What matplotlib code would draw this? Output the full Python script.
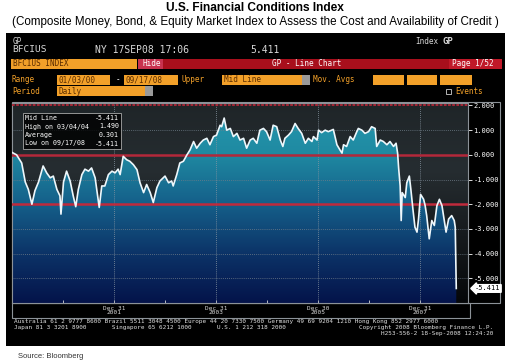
import numpy as np
import matplotlib.pyplot as plt
import matplotlib.transforms as mtransforms
from matplotlib.colors import LinearSegmentedColormap
from matplotlib.patches import Rectangle

W, H = 510, 362

# index readings (decimal year, value)
t = [2000.00, 2000.09, 2000.19, 2000.26, 2000.32, 2000.39, 2000.45, 2000.52, 2000.61, 2000.68, 2000.75, 2000.81, 2000.88, 2000.94, 2000.96,
     2001.01, 2001.07, 2001.14, 2001.20, 2001.25, 2001.30, 2001.37, 2001.43, 2001.50, 2001.56, 2001.63, 2001.67, 2001.71, 2001.76, 2001.82, 2001.89, 2001.96,
     2002.02, 2002.08, 2002.12, 2002.18, 2002.25, 2002.31, 2002.38, 2002.45, 2002.51, 2002.58, 2002.64, 2002.71, 2002.77, 2002.84, 2002.90,
     2003.00, 2003.07, 2003.13, 2003.16, 2003.23, 2003.29, 2003.36, 2003.43, 2003.49, 2003.56, 2003.62, 2003.69, 2003.75, 2003.82, 2003.88, 2003.95,
     2004.01, 2004.08, 2004.11, 2004.16, 2004.21, 2004.28, 2004.34, 2004.41, 2004.47, 2004.54, 2004.60, 2004.67, 2004.73, 2004.80, 2004.86, 2004.93, 2004.99,
     2005.06, 2005.12, 2005.19, 2005.26, 2005.31, 2005.35, 2005.42, 2005.48, 2005.55, 2005.61, 2005.68, 2005.75, 2005.81, 2005.88, 2005.91, 2005.98,
     2006.01, 2006.07, 2006.14, 2006.20, 2006.30, 2006.37, 2006.43, 2006.47, 2006.50, 2006.56, 2006.63, 2006.69, 2006.76, 2006.79, 2006.86, 2006.92, 2006.99,
     2007.05, 2007.12, 2007.15, 2007.22, 2007.28, 2007.35, 2007.41, 2007.48, 2007.53, 2007.56, 2007.58, 2007.61, 2007.63, 2007.65, 2007.71, 2007.74, 2007.79, 2007.82, 2007.86, 2007.90, 2007.94, 2007.97,
     2008.01, 2008.07, 2008.10, 2008.13, 2008.18, 2008.23, 2008.28, 2008.33, 2008.38, 2008.43, 2008.46, 2008.51, 2008.56, 2008.62, 2008.67, 2008.69, 2008.71]
fci = [0.10, 0.00, -0.33, -1.10, -1.40, -2.00, -1.45, -1.10, -0.45, -0.73, -0.93, -0.86, -1.40, -1.66, -2.40,
       -1.10, -0.66, -1.06, -1.66, -2.10, -1.40, -0.80, -0.58, -0.66, -0.53, -0.93, -1.53, -2.13, -1.26, -1.26, -0.80, -0.66,
       -0.73, -0.58, -0.80, -0.06, -0.20, -0.26, -0.40, -0.60, -1.13, -1.53, -1.20, -1.53, -1.93, -1.33, -1.06,
       -0.86, -1.13, -1.06, -1.26, -0.80, -0.33, -0.26, 0.00, 0.20, 0.54, 0.27, 0.47, 0.60, 0.67, 0.41, 0.74,
       0.80, 1.20, 1.14, 1.49, 1.00, 1.07, 0.74, 0.87, 0.60, 0.67, 0.27, 0.60, 0.67, 0.47, 1.00, 1.07, 0.94,
       0.60, 1.20, 1.14, 0.60, 0.34, 0.67, 0.80, 0.94, 1.27, 1.07, 0.87, 0.47, 0.67, 0.54, 0.74, 0.60,
       1.00, 0.90, 1.00, 0.94, 1.03, 0.41, 0.20, 0.07, 0.41, 0.34, 0.74, 0.60, 0.94, 1.07, 1.00, 0.87, 0.94,
       1.14, 1.07, 0.34, 0.60, 0.54, 0.41, 0.54, 0.34, 0.47, 0.07, -0.53, -1.26, -2.66, -1.53, -1.73, -1.13, -0.86, -1.40, -2.20, -2.93, -3.13, -2.60,
       -1.60, -1.80, -2.06, -2.46, -3.40, -2.66, -2.86, -2.06, -1.80, -2.06, -2.46, -3.13, -2.60, -2.46, -2.66, -2.93, -5.411]

last = -5.411
yticks = [2, 1, 0, -1, -2, -3, -4, -5]
xmajor = [2002, 2004, 2006, 2008]
xlabels = ['Dec 31\n2001', 'Dec 31\n2003', 'Dec 30\n2005', 'Dec 31\n2007']
xminor = [2001, 2003, 2005, 2007]
stat_names = ['Mid Line', 'High on 03/04/04', 'Average', 'Low on 09/17/08']
stat_vals = ['-5.411', '1.490', '0.301', '-5.411']

MONO = 'DejaVu Sans Mono'
ORANGE = '#f2a029'


def fx(x):
    return x / W


def fy(y):
    return 1 - y / H


fig = plt.figure(figsize=(W / 100, H / 100), dpi=100)
fig.patch.set_facecolor('white')


def box(x0, y0, x1, y1, fc, ec='none', lw=0, z=-1):
    fig.patches.append(Rectangle((fx(x0), fy(y1)), (x1 - x0) / W, (y1 - y0) / H,
                                 transform=fig.transFigure, facecolor=fc,
                                 edgecolor=ec, linewidth=lw, zorder=z))


def txt(x, y, s, size=5.5, color='#d8d8d8', ha='left', **kw):
    fig.text(fx(x), fy(y), s, fontsize=size, color=color, ha=ha, va='center',
             family=MONO, **kw)


# titles
fig.text(0.5, fy(8), 'U.S. Financial Conditions Index', ha='center', va='center',
         fontsize=8.6, fontweight='bold', family='Liberation Sans')
fig.text(0.5, fy(22), '(Composite Money, Bond, & Equity Market Index to Assess the Cost and Availability of Credit )',
         ha='center', va='center', fontsize=8.4, family='Liberation Sans')
fig.text(fx(18), fy(356), 'Source: Bloomberg', ha='left', va='center',
         fontsize=5.5, family='Liberation Sans', color='#333333')

# terminal panel
box(6, 33, 505, 346, 'black', z=-5)
txt(13, 41, 'GP', size=5.5)
txt(415, 41, 'Index', size=5.5)
txt(443, 41, 'GP', size=6.5, fontweight='bold')
txt(12, 50, 'BFCIUS', size=6.8)
txt(95, 50, 'NY 17SEP08 17:06', size=7)
txt(250, 50, '5.411', size=7)

box(11, 59, 137, 69, ORANGE)
txt(13, 64, 'BFCIUS INDEX', color='#5a2c00')
box(138, 59, 163, 69, '#c8324e')
txt(143, 64, 'Hide', color='white')
box(163, 59, 502, 69, '#a80f1c')
box(449, 59, 502, 69, '#c01828')
txt(272, 64, 'GP - Line Chart', color='white')
txt(452, 64, 'Page 1/52', color='white')

txt(12, 80, 'Range', color=ORANGE)
box(57, 75, 110, 85, ORANGE)
txt(59, 80, '01/03/00', color='#5a2c00')
txt(116, 80, '-', color='white')
box(124, 75, 178, 85, ORANGE)
txt(126, 80, '09/17/08', color='#5a2c00')
txt(182, 80, 'Upper', color=ORANGE)
box(222, 75, 302, 85, ORANGE)
box(302, 75, 310, 85, '#9a9a9a')
txt(224, 80, 'Mid Line', color='#5a2c00')
txt(313, 80, 'Mov. Avgs', color=ORANGE)
for a, b in [(373, 404), (407, 437), (440, 472)]:
    box(a, 75, b, 85, ORANGE)

txt(12, 91, 'Period', color=ORANGE)
box(57, 86, 145, 96, ORANGE)
box(145, 86, 153, 96, '#9a9a9a')
txt(59, 91, 'Daily', color='#5a2c00')
box(446, 89, 451, 94, 'none', ec='#d0d0d0', lw=0.6)
txt(455, 92, 'Events', color=ORANGE)

# chart frame pieces
box(12, 102, 500, 303, 'none', ec='#8c9298', lw=0.8, z=-4)
box(12, 303, 470, 318, 'none', ec='#8c9298', lw=0.8, z=-4)

# footer
txt(14, 322, 'Australia 61 2 9777 8600 Brazil 5511 3048 4500 Europe 44 20 7330 7500 Germany 49 69 9204 1210 Hong Kong 852 2977 6000', size=4.35, color='#e0e0e0')
txt(14, 328, 'Japan 81 3 3201 8900       Singapore 65 6212 1000       U.S. 1 212 318 2000', size=4.35, color='#e0e0e0')
txt(493, 328, 'Copyright 2008 Bloomberg Finance L.P.', size=4.35, color='#e0e0e0', ha='right')
txt(493, 333, 'H253-556-2 18-Sep-2008 12:24:20', size=4.35, color='#e0e0e0', ha='right')

# main chart
ax = fig.add_axes([fx(12), fy(303), (468 - 12) / W, (303 - 103) / H])
x0, x1, y0, y1 = 2000.0, 2008.94, -6.0, 2.1
grad = np.linspace(0, 1, 256).reshape(-1, 1)
bg_cmap = LinearSegmentedColormap.from_list('bg', ['#050709', '#161a1d', '#262d31', '#1f2528'])
fill_cmap = LinearSegmentedColormap.from_list('fill', ['#04134a', '#0c3468', '#15608a', '#1f8aa2', '#2698ae'])
ax.imshow(grad, extent=[x0, x1, y0, y1], origin='lower', aspect='auto', cmap=bg_cmap, zorder=0)
area = ax.fill_between(t, fci, y0, facecolor='none', edgecolor='none')
img = ax.imshow(grad, extent=[x0, x1, y0, y1], origin='lower', aspect='auto', cmap=fill_cmap, zorder=1)
img.set_clip_path(area.get_paths()[0], transform=ax.transData)

for v in [1, -1, -3, -4, -5]:
    ax.axhline(v, color='#6f7d89', lw=0.6, ls=(0, (1, 1.5)), zorder=2)
for v in xmajor:
    ax.axvline(v, color='#8896a2', lw=0.6, ls=(0, (1, 1.5)), zorder=2)
ax.axhline(2, color='#b32838', lw=1.3, ls=(0, (1.5, 0.8)), zorder=3)
ax.axhline(0, color='#b3283a', lw=1.8, zorder=3)
ax.axhline(-2, color='#c02a3c', lw=1.8, zorder=3)
ax.plot(t, fci, color='#eef7fb', lw=1.2, zorder=4)

ax.set_xlim(x0, x1)
ax.set_ylim(y0, y1)
for s in ax.spines.values():
    s.set_color('#8c9298')
    s.set_linewidth(0.8)

ax.yaxis.tick_right()
ax.set_yticks(yticks)
ax.set_yticklabels([f'{v:.3f}' for v in yticks], family=MONO)
ax.tick_params(axis='y', colors='white', labelsize=5, length=3, width=0.6, pad=1)
ax.set_xticks(xmajor)
ax.set_xticklabels(xlabels, family=MONO, linespacing=0.9)
ax.set_xticks(xminor, minor=True)
ax.tick_params(axis='x', which='both', direction='in', colors='#d8d8d8', labelsize=4.4, length=2, width=0.6, pad=2)

blend = mtransforms.blended_transform_factory(ax.transAxes, ax.transData)
ax.text(1.015, last, f'{last:.3f}', transform=blend, fontsize=5, family=MONO,
        color='black', ha='left', va='center', zorder=6, clip_on=False,
        bbox=dict(boxstyle='larrow,pad=0.12', fc='white', ec='white'))

# stats box
box(23, 113, 121, 149, (0, 0, 0, 0.8), ec='#a8a8a8', lw=0.6, z=5)
for i, (n, v) in enumerate(zip(stat_names, stat_vals)):
    txt(25, 118 + 8.5 * i, n, size=4.8, color='white', zorder=6)
    txt(119, 118 + 8.5 * i, v, size=4.8, color='white', ha='right', zorder=6)

fig.savefig('out.png', dpi=100)
